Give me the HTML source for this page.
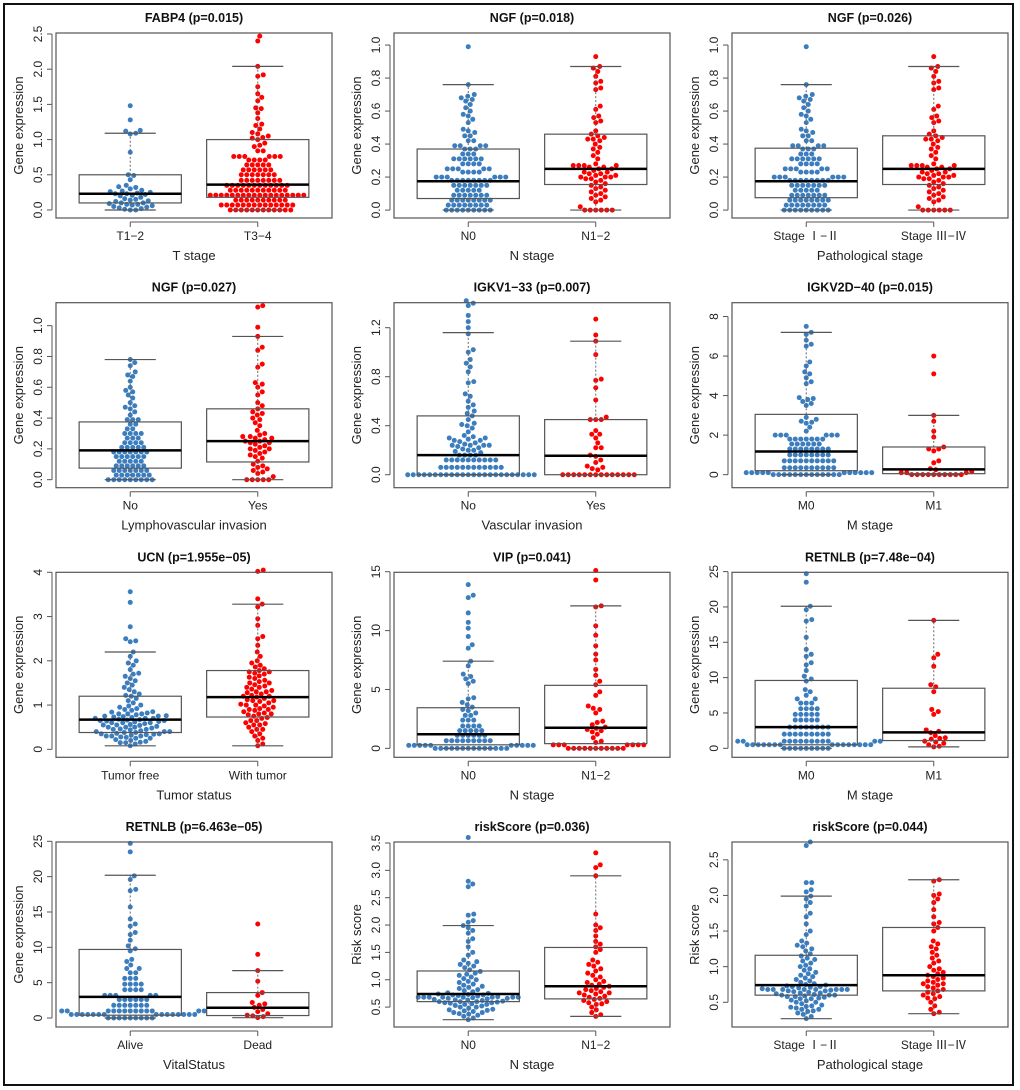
<!DOCTYPE html>
<html><head><meta charset="utf-8"><style>
html,body{margin:0;padding:0;background:#fff;}
svg{display:block;font-family:"Liberation Sans","Noto Sans CJK SC",sans-serif;}
</style></head><body>
<svg id="fig" width="1020" height="1090" viewBox="0 0 1020 1090" xmlns="http://www.w3.org/2000/svg">
<rect x="4" y="4" width="1009" height="1081" fill="none" stroke="#111" stroke-width="2"/>
</svg>
<script>
const titles=["FABP4 (p=0.015)","NGF (p=0.018)","NGF (p=0.026)","NGF (p=0.027)","IGKV1\u221233 (p=0.007)","IGKV2D\u221240 (p=0.015)","UCN (p=1.955e\u221205)","VIP (p=0.041)","RETNLB (p=7.48e\u221204)","RETNLB (p=6.463e\u221205)","riskScore (p=0.036)","riskScore (p=0.044)"];
const xTitles=["T stage","N stage","Pathological stage","Lymphovascular invasion","Vascular invasion","M stage","Tumor status","N stage","M stage","VitalStatus","N stage","Pathological stage"];
const yTitles=["Gene expression","Gene expression","Gene expression","Gene expression","Gene expression","Gene expression","Gene expression","Gene expression","Gene expression","Gene expression","Risk score","Risk score"];
const groupNames=[["T1\u22122","T3\u22124"],["N0","N1\u22122"],["Stage \u2160\u2212\u2161","Stage \u2162\u2212\u2163"],["No","Yes"],["No","Yes"],["M0","M1"],["Tumor free","With tumor"],["N0","N1\u22122"],["M0","M1"],["Alive","Dead"],["N0","N1\u22122"],["Stage \u2160\u2212\u2161","Stage \u2162\u2212\u2163"]];
const yDomains=[[-0.114,2.514],[-0.048,1.073],[-0.048,1.073],[-0.052,1.149],[-0.106,1.404],[-0.66,8.7],[-0.18,4.0],[-0.76,14.95],[-1.27,24.9],[-1.27,24.9],[0.136,3.518],[0.153,2.75]];
const yTicks=[[0,0.5,1,1.5,2,2.5],[0,0.2,0.4,0.6,0.8,1],[0,0.2,0.4,0.6,0.8,1],[0,0.2,0.4,0.6,0.8,1],[0,0.4,0.8,1.2],[0,2,4,6,8],[0,1,2,3,4],[0,5,10,15],[0,5,10,15,20,25],[0,5,10,15,20,25],[0.5,1,1.5,2,2.5,3,3.5],[0.5,1,1.5,2,2.5]];
const tickDecimals=[1,1,1,1,1,0,0,0,0,0,1,1];
const statsA=[[0,0.1,0.23,0.5,1.09],[0,0.07,0.175,0.37,0.76],[0,0.075,0.175,0.375,0.76],[0,0.075,0.19,0.375,0.78],[0,0,0.16,0.48,1.16],[0,0.2,1.17,3.05,7.2],[0.08,0.38,0.67,1.2,2.2],[0,0.3,1.2,3.45,7.4],[0,0.5,3.0,9.6,20.1],[0,0.4,3.0,9.7,20.2],[0.27,0.6,0.74,1.16,1.99],[0.27,0.6,0.74,1.16,1.99]];
const statsB=[[0,0.18,0.36,1.0,2.04],[0,0.155,0.25,0.46,0.87],[0,0.155,0.25,0.45,0.87],[0,0.115,0.25,0.46,0.93],[0,0,0.155,0.45,1.09],[0,0.05,0.27,1.4,3.0],[0.08,0.73,1.18,1.78,3.28],[0,0.4,1.75,5.35,12.1],[0.2,1.1,2.25,8.5,18.1],[0.05,0.35,1.45,3.6,6.7],[0.33,0.65,0.88,1.59,2.9],[0.34,0.66,0.88,1.55,2.22]];

const p1g1=[0,0,0.01,0.02,0.03,0.04,0.05,0.06,0.07,0.08,0.08,0.09,0.1,0.1,0.12,0.13,0.14,0.15,0.16,0.18,0.2,0.21,0.22,0.23,0.23,0.24,0.25,0.26,0.27,0.28,0.3,0.32,0.33,0.35,0.43,0.49,0.5,0.82,1.08,1.09,1.12,1.13,1.28,1.48];
const p1g2=[0,0,0,0,0,0,0,0,0,0,0,0,0.07,0.07,0.07,0.07,0.07,0.07,0.07,0.07,0.07,0.07,0.07,0.07,0.07,0.07,0.14,0.14,0.14,0.14,0.14,0.14,0.14,0.14,0.14,0.14,0.21,0.21,0.21,0.21,0.21,0.21,0.21,0.21,0.21,0.21,0.21,0.21,0.21,0.21,0.21,0.21,0.21,0.21,0.28,0.28,0.28,0.28,0.28,0.28,0.28,0.28,0.28,0.28,0.28,0.35,0.35,0.35,0.35,0.35,0.35,0.35,0.35,0.35,0.35,0.35,0.35,0.42,0.42,0.42,0.42,0.42,0.42,0.42,0.42,0.5,0.5,0.5,0.5,0.5,0.5,0.5,0.57,0.57,0.57,0.57,0.57,0.57,0.64,0.64,0.64,0.64,0.64,0.71,0.71,0.71,0.71,0.76,0.76,0.76,0.76,0.76,0.76,0.84,0.84,0.9,0.92,0.95,1.0,1.02,1.03,1.05,1.08,1.1,1.15,1.2,1.22,1.3,1.38,1.44,1.45,1.55,1.6,1.65,1.75,1.9,1.92,2.04,2.4,2.47];
const p2g1=[0,0,0,0,0,0,0,0,0,0.03,0.03,0.03,0.03,0.03,0.03,0.03,0.03,0.06,0.06,0.06,0.06,0.06,0.06,0.06,0.06,0.09,0.09,0.09,0.09,0.09,0.09,0.09,0.12,0.12,0.12,0.12,0.12,0.15,0.15,0.15,0.15,0.15,0.15,0.15,0.18,0.18,0.18,0.18,0.18,0.18,0.18,0.18,0.2,0.2,0.2,0.2,0.2,0.2,0.23,0.23,0.23,0.23,0.25,0.25,0.25,0.25,0.25,0.28,0.28,0.28,0.28,0.31,0.31,0.31,0.31,0.31,0.31,0.34,0.34,0.34,0.37,0.37,0.37,0.39,0.39,0.39,0.39,0.42,0.42,0.45,0.45,0.47,0.48,0.49,0.53,0.55,0.57,0.58,0.6,0.62,0.64,0.66,0.67,0.68,0.69,0.7,0.76,0.99];
const p2g2=[0,0,0,0,0,0,0.02,0.05,0.06,0.07,0.08,0.09,0.1,0.11,0.12,0.13,0.14,0.15,0.16,0.17,0.18,0.19,0.19,0.2,0.2,0.2,0.21,0.21,0.22,0.22,0.23,0.23,0.24,0.25,0.25,0.26,0.26,0.27,0.27,0.27,0.27,0.28,0.31,0.33,0.35,0.37,0.38,0.4,0.42,0.43,0.43,0.44,0.45,0.46,0.48,0.53,0.54,0.56,0.57,0.61,0.63,0.73,0.74,0.77,0.78,0.81,0.84,0.86,0.87,0.93];
const p3g1=[0,0,0,0,0,0,0,0,0,0.03,0.03,0.03,0.03,0.03,0.03,0.03,0.03,0.06,0.06,0.06,0.06,0.06,0.06,0.06,0.06,0.09,0.09,0.09,0.09,0.09,0.09,0.09,0.12,0.12,0.12,0.12,0.12,0.15,0.15,0.15,0.15,0.15,0.15,0.15,0.18,0.18,0.18,0.18,0.18,0.18,0.18,0.18,0.2,0.2,0.2,0.2,0.2,0.2,0.23,0.23,0.23,0.23,0.25,0.25,0.25,0.25,0.25,0.28,0.28,0.28,0.28,0.31,0.31,0.31,0.31,0.31,0.31,0.34,0.34,0.34,0.37,0.37,0.37,0.39,0.39,0.39,0.39,0.42,0.42,0.45,0.45,0.47,0.48,0.49,0.53,0.55,0.57,0.58,0.6,0.62,0.64,0.66,0.67,0.68,0.69,0.7,0.76,0.99];
const p3g2=[0,0,0,0,0,0,0.02,0.05,0.06,0.07,0.08,0.09,0.1,0.11,0.12,0.13,0.14,0.15,0.16,0.17,0.18,0.19,0.19,0.2,0.2,0.2,0.21,0.21,0.22,0.22,0.23,0.23,0.24,0.25,0.25,0.26,0.26,0.27,0.27,0.27,0.27,0.28,0.31,0.33,0.35,0.37,0.38,0.4,0.42,0.43,0.43,0.44,0.45,0.46,0.48,0.53,0.54,0.56,0.57,0.61,0.63,0.73,0.74,0.77,0.78,0.81,0.84,0.86,0.87,0.93];
const p4g1=[0,0,0,0,0,0,0,0,0,0.03,0.03,0.03,0.03,0.03,0.03,0.03,0.06,0.06,0.06,0.06,0.06,0.06,0.06,0.09,0.09,0.09,0.09,0.09,0.09,0.12,0.12,0.12,0.12,0.12,0.15,0.15,0.15,0.15,0.15,0.15,0.18,0.18,0.18,0.18,0.18,0.18,0.18,0.21,0.21,0.21,0.21,0.21,0.24,0.24,0.24,0.24,0.27,0.27,0.27,0.3,0.3,0.3,0.3,0.33,0.33,0.36,0.36,0.39,0.39,0.39,0.42,0.44,0.46,0.47,0.48,0.5,0.53,0.55,0.57,0.58,0.6,0.64,0.67,0.68,0.7,0.74,0.76,0.78];
const p4g2=[0,0,0,0,0,0.02,0.04,0.05,0.06,0.07,0.08,0.09,0.1,0.12,0.14,0.15,0.16,0.17,0.18,0.19,0.2,0.2,0.21,0.22,0.23,0.24,0.24,0.25,0.25,0.26,0.27,0.27,0.28,0.28,0.29,0.3,0.32,0.35,0.37,0.39,0.4,0.42,0.43,0.44,0.46,0.48,0.5,0.55,0.57,0.6,0.62,0.63,0.73,0.75,0.84,0.86,0.93,0.99,1.12,1.13];
const p5g1=[0,0,0,0,0,0,0,0,0,0,0,0,0,0,0,0,0,0,0,0,0,0,0,0,0.06,0.06,0.06,0.06,0.06,0.06,0.06,0.06,0.06,0.06,0.06,0.06,0.12,0.12,0.12,0.12,0.12,0.12,0.12,0.12,0.12,0.12,0.16,0.16,0.16,0.16,0.18,0.19,0.2,0.2,0.21,0.22,0.23,0.24,0.24,0.24,0.24,0.25,0.26,0.27,0.28,0.28,0.29,0.3,0.3,0.31,0.32,0.35,0.38,0.4,0.41,0.42,0.45,0.48,0.5,0.52,0.55,0.57,0.6,0.64,0.66,0.75,0.76,0.84,0.88,0.91,0.94,1.0,1.02,1.15,1.2,1.25,1.3,1.38,1.4,1.42];
const p5g2=[0,0,0,0,0,0,0,0,0,0,0,0,0,0,0.04,0.05,0.06,0.07,0.1,0.12,0.15,0.16,0.22,0.22,0.26,0.3,0.33,0.33,0.36,0.45,0.45,0.45,0.47,0.61,0.71,0.77,0.78,0.98,1.09,1.14,1.27];
const p6g1=[0,0,0,0,0,0,0,0,0,0,0,0,0,0.1,0.1,0.1,0.1,0.1,0.1,0.1,0.1,0.1,0.1,0.1,0.35,0.35,0.35,0.35,0.35,0.35,0.35,0.35,0.35,0.35,0.7,0.7,0.7,0.7,0.7,0.7,0.7,0.7,0.7,0.7,1.0,1.0,1.0,1.0,1.0,1.0,1.0,1.0,1.3,1.3,1.3,1.3,1.3,1.3,1.3,1.3,1.55,1.55,1.55,1.55,1.55,1.55,1.8,1.8,1.8,1.8,1.8,1.8,1.8,2.0,2.0,2.0,2.0,2.0,2.0,2.2,2.4,2.6,2.65,2.7,2.8,2.9,3.5,3.6,3.7,3.8,3.85,3.9,4.6,4.7,4.9,5.1,5.2,5.5,5.7,6.5,6.6,6.8,7.1,7.2,7.5];
const p6g2=[0,0,0,0,0,0,0,0,0,0,0.1,0.1,0.1,0.15,0.25,0.3,0.6,0.7,1.2,1.3,1.3,1.4,1.9,2.2,2.7,3.0,5.1,6.0];
const p7g1=[0.08,0.12,0.15,0.15,0.16,0.18,0.2,0.22,0.25,0.25,0.27,0.28,0.3,0.3,0.3,0.32,0.33,0.34,0.35,0.35,0.36,0.38,0.38,0.4,0.4,0.4,0.42,0.44,0.45,0.45,0.46,0.48,0.5,0.5,0.5,0.52,0.54,0.55,0.55,0.56,0.58,0.6,0.6,0.6,0.62,0.63,0.64,0.65,0.65,0.66,0.67,0.68,0.7,0.7,0.7,0.72,0.73,0.74,0.75,0.75,0.76,0.78,0.8,0.8,0.8,0.82,0.84,0.85,0.88,0.9,0.92,0.95,0.98,1.0,1.05,1.1,1.15,1.2,1.22,1.25,1.3,1.35,1.4,1.45,1.5,1.55,1.6,1.65,1.7,1.72,1.8,1.9,1.95,2.0,2.1,2.2,2.43,2.45,2.5,2.77,3.32,3.56];
const p7g2=[0.08,0.12,0.2,0.25,0.3,0.35,0.4,0.45,0.45,0.5,0.55,0.55,0.58,0.6,0.65,0.65,0.7,0.72,0.75,0.78,0.8,0.8,0.82,0.85,0.88,0.9,0.9,0.92,0.95,0.98,1.0,1.0,1.02,1.05,1.08,1.1,1.1,1.12,1.15,1.18,1.2,1.2,1.22,1.25,1.28,1.3,1.3,1.33,1.36,1.4,1.4,1.43,1.46,1.5,1.5,1.53,1.56,1.6,1.63,1.66,1.7,1.72,1.75,1.75,1.78,1.82,1.86,1.9,1.95,2.0,2.1,2.2,2.35,2.5,2.55,2.8,2.95,3.22,3.28,3.4,4.02,4.05];
const p8g1=[0,0,0,0,0,0,0,0,0,0,0,0,0,0,0.25,0.25,0.25,0.25,0.25,0.25,0.25,0.25,0.25,0.25,0.65,0.65,0.65,0.65,0.65,0.65,0.65,0.65,0.65,1.1,1.1,1.1,1.1,1.1,1.1,1.5,1.5,1.5,1.5,1.5,1.9,1.9,1.9,1.9,2.4,2.4,2.4,2.8,2.8,3.0,3.2,3.3,3.5,3.7,3.9,4.2,4.3,5.5,5.7,5.9,6.1,6.3,7.0,7.4,8.5,8.8,9.5,10.2,10.7,11.5,12.8,13.0,13.9];
const p8g2=[0,0,0,0,0,0,0,0,0,0,0,0.3,0.3,0.3,0.3,0.3,0.3,0.3,0.5,0.6,0.9,1.2,1.4,1.5,1.6,1.7,1.8,2.0,2.2,2.3,3.0,3.3,3.4,3.6,4.5,4.8,5.4,5.7,6.2,6.7,7.5,8.0,8.7,9.6,10.4,12.0,12.1,14.3,15.1];
const p9g1=[0,0,0,0,0,0,0,0,0,0.5,0.5,0.5,0.5,0.5,0.5,0.5,0.5,0.5,0.5,0.5,0.5,0.5,0.5,0.5,1.0,1.0,1.0,1.0,1.0,1.0,1.0,1.0,1.0,1.0,1.0,1.0,1.0,2.0,2.0,2.0,2.0,2.0,2.0,2.0,2.0,2.0,3.0,3.0,3.0,3.0,3.0,3.0,3.0,3.0,4.0,4.0,4.0,4.0,4.0,4.8,4.8,4.8,4.8,4.8,5.6,5.6,5.6,5.6,6.4,6.4,6.4,7.0,7.0,7.5,8.0,8.3,9.5,9.8,10.2,11.0,11.8,12.1,13.0,13.3,14.0,15.7,18.0,18.2,19.6,20.1,23.5,24.7];
const p9g2=[0.2,0.3,0.5,0.7,0.9,1.0,1.3,1.4,1.5,1.8,2.2,2.4,2.6,4.8,5.2,5.5,8.0,8.7,9.0,11.6,12.8,13.3,18.1];
const p10g1=[0,0,0,0,0,0,0,0,0,0.5,0.5,0.5,0.5,0.5,0.5,0.5,0.5,0.5,0.5,0.5,0.5,0.5,0.5,0.5,1.0,1.0,1.0,1.0,1.0,1.0,1.0,1.0,1.0,1.0,1.0,1.0,1.0,1.8,1.8,1.8,1.8,1.8,1.8,1.8,2.6,2.6,2.6,2.6,2.6,2.6,3.2,3.2,3.2,3.2,3.2,4.0,4.0,4.0,4.0,4.8,4.8,4.8,4.8,5.6,5.6,5.6,6.4,6.4,7.0,7.0,7.5,8.0,8.3,9.5,9.8,10.2,11.0,11.8,12.1,13.0,13.3,14.0,15.7,18.0,18.2,19.6,20.1,23.5,24.7];
const p10g2=[0.05,0.2,0.3,0.4,0.6,0.9,1.2,1.5,1.8,2.0,2.2,3.2,3.6,5.2,6.7,9.0,13.3];
const p11g1=[0.27,0.3,0.33,0.35,0.37,0.38,0.4,0.4,0.42,0.43,0.44,0.45,0.46,0.48,0.5,0.5,0.52,0.53,0.55,0.55,0.56,0.57,0.58,0.58,0.59,0.6,0.6,0.6,0.61,0.62,0.63,0.63,0.64,0.65,0.66,0.66,0.67,0.68,0.68,0.68,0.68,0.68,0.68,0.68,0.68,0.69,0.7,0.71,0.72,0.72,0.73,0.74,0.75,0.76,0.78,0.8,0.82,0.84,0.86,0.88,0.9,0.92,0.95,0.97,1.0,1.02,1.05,1.08,1.1,1.12,1.15,1.18,1.22,1.25,1.28,1.3,1.33,1.36,1.45,1.5,1.6,1.7,1.75,1.85,1.9,1.95,1.99,2.05,2.08,2.18,2.2,2.7,2.75,2.8,3.6];
const p11g2=[0.33,0.36,0.4,0.45,0.5,0.55,0.56,0.58,0.6,0.62,0.64,0.66,0.68,0.7,0.72,0.74,0.76,0.76,0.78,0.8,0.82,0.84,0.86,0.88,0.9,0.92,0.95,0.97,1.0,1.05,1.08,1.12,1.16,1.2,1.25,1.28,1.32,1.36,1.5,1.55,1.6,1.65,1.7,1.8,1.9,1.95,2.0,2.2,2.9,3.05,3.1,3.32];
const p12g1=[0.27,0.3,0.33,0.35,0.37,0.38,0.4,0.4,0.42,0.43,0.44,0.45,0.46,0.48,0.5,0.5,0.52,0.53,0.55,0.55,0.56,0.57,0.58,0.58,0.59,0.6,0.6,0.6,0.61,0.62,0.63,0.63,0.64,0.65,0.66,0.66,0.67,0.68,0.68,0.68,0.68,0.68,0.68,0.68,0.68,0.69,0.7,0.71,0.72,0.72,0.73,0.74,0.75,0.76,0.78,0.8,0.82,0.84,0.86,0.88,0.9,0.92,0.95,0.97,1.0,1.02,1.05,1.08,1.1,1.12,1.15,1.18,1.22,1.25,1.28,1.3,1.33,1.36,1.45,1.5,1.6,1.7,1.75,1.85,1.9,1.95,1.99,2.05,2.08,2.18,2.18,2.7,2.75];
const p12g2=[0.34,0.36,0.4,0.45,0.5,0.55,0.56,0.58,0.6,0.62,0.64,0.66,0.68,0.7,0.72,0.74,0.76,0.76,0.78,0.8,0.82,0.84,0.86,0.88,0.9,0.92,0.95,0.97,1.0,1.05,1.08,1.12,1.16,1.2,1.25,1.28,1.32,1.36,1.5,1.55,1.6,1.62,1.7,1.8,1.9,1.95,2.0,2.02,2.2,2.22];
const groupA=[p1g1,p2g1,p3g1,p4g1,p5g1,p6g1,p7g1,p8g1,p9g1,p10g1,p11g1,p12g1];
const groupB=[p1g2,p2g2,p3g2,p4g2,p5g2,p6g2,p7g2,p8g2,p9g2,p10g2,p11g2,p12g2];

const NS="http://www.w3.org/2000/svg";
const svg=document.getElementById('fig');
const colLeft=[56,394,732], rowTop=[33,302.7,572.3,842], W=276, H=185;
const colors=["#3b7dbd","#ff0000"];
function mk(tag,attrs,parent){const e=document.createElementNS(NS,tag);for(const k in attrs)e.setAttribute(k,attrs[k]);(parent||svg).appendChild(e);return e;}

function swarm(vals,cx,ys,D){
  const sorted=vals.map(v=>ys(v)).sort((a,b)=>b-a);
  const placed=[];const out=[];
  for(const y of sorted){
    let best=null;
    for(let k=0;k<400;k++){
      const offs=k===0?[0]:[k*0.5,-k*0.5];
      for(const o of offs){
        let ok=true;
        for(const p of placed){const dx=p[0]-o,dy=p[1]-y;if(dx*dx+dy*dy<D*D-0.01){ok=false;break;}}
        if(ok){best=o;break;}
      }
      if(best!==null)break;
    }
    placed.push([best,y]);out.push([cx+best,y]);
  }
  return out;
}

for(let i=0;i<12;i++){
  const L=colLeft[i%3], T=rowTop[Math.floor(i/3)];
  const g=mk('g',{});
  
  
  const dom=yDomains[i];
  const ys=v=>T+H-(v-dom[0])/(dom[1]-dom[0])*H;
  const gx=[L+W*0.269,L+W*0.731];
  const bw=W*0.8/2.16;
  const t=mk('text',{x:L+W/2,y:T-11,'text-anchor':'middle','font-size':'12.5','font-weight':'bold',fill:'#111'},g);
  t.textContent=titles[i];
  
  
  const yt=yTicks[i];
  mk('line',{x1:L-4,x2:L-4,y1:ys(yt[0]),y2:ys(yt[yt.length-1]),stroke:'#555','stroke-width':'1'},g);
  yt.forEach(v=>{
    const y=ys(v);
    mk('line',{x1:L-9,x2:L-4,y1:y,y2:y,stroke:'#555','stroke-width':'1'},g);
    const tl=mk('text',{x:0,y:0,'text-anchor':'middle','font-size':'12',fill:'#222',transform:`translate(${L-14},${y}) rotate(-90)`},g);
    tl.textContent=v.toFixed(tickDecimals[i]);
    
    
  });
  const yl=mk('text',{x:0,y:0,'text-anchor':'middle','font-size':'13',fill:'#222',transform:`translate(${L-33},${T+H/2}) rotate(-90)`},g);
  yl.textContent=yTitles[i];
  
  
  mk('line',{x1:gx[0],x2:gx[1],y1:T+H+4,y2:T+H+4,stroke:'#555','stroke-width':'1'},g);
  for(let j=0;j<2;j++){
    mk('line',{x1:gx[j],x2:gx[j],y1:T+H+4,y2:T+H+9,stroke:'#555','stroke-width':'1'},g);
    const xl=mk('text',{x:gx[j],y:T+H+22,'text-anchor':'middle','font-size':'12',fill:'#222'},g);
    xl.textContent=groupNames[i][j];
    
    
  }
  const xt=mk('text',{x:L+W/2,y:T+H+42,'text-anchor':'middle','font-size':'13',fill:'#222'},g);
  xt.textContent=xTitles[i];
  
  
  [groupA[i],groupB[i]].forEach((vals,j)=>{
    swarm(vals,gx[j],ys,5.2).forEach(p=>{
      const c=mk('circle',{cx:p[0],cy:p[1],r:2.5,fill:colors[j]},g);
      
      
    });
  });
  const fr=mk('rect',{x:L,y:T,width:W,height:H,fill:'none',stroke:'#555','stroke-width':'1.2'},g);
  
  
  [statsA[i],statsB[i]].forEach((s,j)=>{
    const cx=gx[j];
    const bg=mk('g',{},g);
    
    
    mk('line',{x1:cx,x2:cx,y1:ys(s[3]),y2:ys(s[4]),stroke:'#666','stroke-width':'1','stroke-dasharray':'2,2'},bg);
    mk('line',{x1:cx,x2:cx,y1:ys(s[0]),y2:ys(s[1]),stroke:'#666','stroke-width':'1','stroke-dasharray':'2,2'},bg);
    mk('line',{x1:cx-bw/4,x2:cx+bw/4,y1:ys(s[4]),y2:ys(s[4]),stroke:'#555','stroke-width':'1.2'},bg);
    mk('line',{x1:cx-bw/4,x2:cx+bw/4,y1:ys(s[0]),y2:ys(s[0]),stroke:'#555','stroke-width':'1.2'},bg);
    mk('rect',{x:cx-bw/2,y:ys(s[3]),width:bw,height:Math.max(0.5,ys(s[1])-ys(s[3])),fill:'none',stroke:'#555','stroke-width':'1.2'},bg);
    mk('line',{x1:cx-bw/2,x2:cx+bw/2,y1:ys(s[2]),y2:ys(s[2]),stroke:'#000','stroke-width':'2.5'},bg);
  });
}
</script>
</body></html>
